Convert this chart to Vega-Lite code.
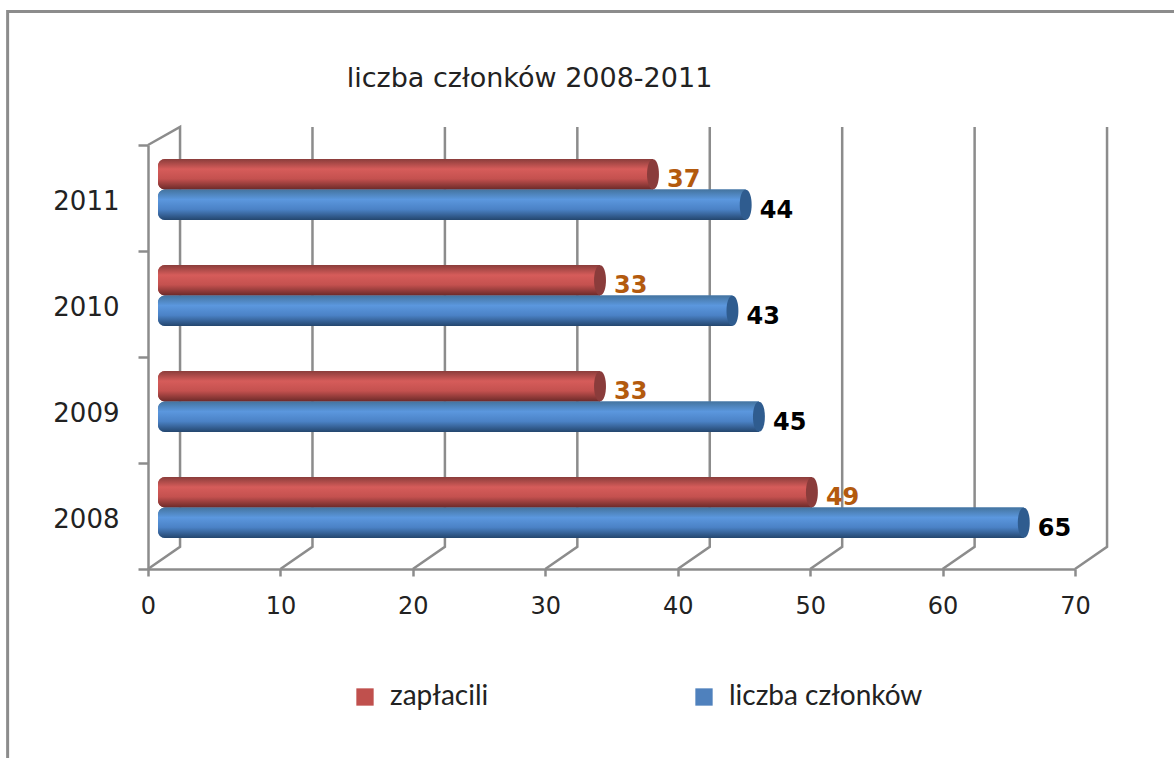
{
"$schema":"https://vega.github.io/schema/vega-lite/v6.json",
"width":927,"height":424,
"autosize":"none",
"padding":{"left":148,"top":145,"right":99,"bottom":189},
"background":"white",
"title":{"text":"liczba członków 2008-2011","anchor":"middle","frame":"group","dx":-82,"offset":-88,"font":"DejaVu Sans","fontSize":27,"fontWeight":"normal","color":"#222222"},
"config":{"view":{"stroke":null}},
"datasets":{
"bars":[
{"year":"2011","series":"zapłacili","value":37,"base":0},{"year":"2011","series":"liczba członków","value":44,"base":0},
{"year":"2010","series":"zapłacili","value":33,"base":0},{"year":"2010","series":"liczba członków","value":43,"base":0},
{"year":"2009","series":"zapłacili","value":33,"base":0},{"year":"2009","series":"liczba członków","value":45,"base":0},
{"year":"2008","series":"zapłacili","value":49,"base":0},{"year":"2008","series":"liczba członków","value":65,"base":0}],
"frame":[{"x":-10.6,"y":-1.8,"k":0},{"x":-10.6,"y":5.26,"k":1},{"x":77.5,"y":5.26,"k":2}],
"grid":[
{"line":"t0","x":0,"y":4,"k":0},{"line":"t0","x":2.42,"y":4.17,"k":1},{"line":"t0","x":2.42,"y":0.21,"k":2},{"line":"t0","x":0,"y":0,"k":3},
{"line":"g10","x":10,"y":0,"k":0},{"line":"g10","x":12.42,"y":0.21,"k":1},{"line":"g10","x":12.42,"y":4.17,"k":2},
{"line":"g20","x":20,"y":0,"k":0},{"line":"g20","x":22.42,"y":0.21,"k":1},{"line":"g20","x":22.42,"y":4.17,"k":2},
{"line":"g30","x":30,"y":0,"k":0},{"line":"g30","x":32.42,"y":0.21,"k":1},{"line":"g30","x":32.42,"y":4.17,"k":2},
{"line":"g40","x":40,"y":0,"k":0},{"line":"g40","x":42.42,"y":0.21,"k":1},{"line":"g40","x":42.42,"y":4.17,"k":2},
{"line":"g50","x":50,"y":0,"k":0},{"line":"g50","x":52.42,"y":0.21,"k":1},{"line":"g50","x":52.42,"y":4.17,"k":2},
{"line":"g60","x":60,"y":0,"k":0},{"line":"g60","x":62.42,"y":0.21,"k":1},{"line":"g60","x":62.42,"y":4.17,"k":2},
{"line":"g70","x":70,"y":0,"k":0},{"line":"g70","x":72.42,"y":0.21,"k":1},{"line":"g70","x":72.42,"y":4.17,"k":2}]
},
"resolve":{"scale":{"y":"independent"},"axis":{"y":"independent"}},
"layer":[
{"layer":[
 {"data":{"name":"frame"},"mark":{"type":"line","stroke":"#8c8c8c","strokeWidth":3,"clip":false},
  "encoding":{"x":{"field":"x","type":"quantitative","scale":{"domain":[0,70],"nice":false},"axis":{"values":[0,10,20,30,40,50,60,70],"title":null,"grid":false,"labelFlush":false,"labelFont":"DejaVu Sans","labelFontSize":24,"labelColor":"#222222","labelPadding":18,"tickSize":7,"tickWidth":2.5,"tickColor":"#8c8c8c","domainColor":"#8c8c8c","domainWidth":2.5}},
   "y":{"field":"y","type":"quantitative","scale":{"domain":[0,4],"nice":false},"axis":{"values":[0,1,2,3,4],"title":null,"grid":false,"labels":false,"tickSize":10,"tickWidth":2.5,"tickColor":"#8c8c8c","domainColor":"#8c8c8c","domainWidth":2.5}},
   "order":{"field":"k","type":"quantitative"}}},
 {"data":{"name":"grid"},"mark":{"type":"line","stroke":"#8c8c8c","strokeWidth":2.5,"clip":false},
  "encoding":{"x":{"field":"x","type":"quantitative"},"y":{"field":"y","type":"quantitative"},"detail":{"field":"line"},"order":{"field":"k","type":"quantitative"}}}
]},
{"data":{"name":"bars"},
 "encoding":{
  "y":{"field":"year","type":"nominal","sort":["2011","2010","2009","2008"],"scale":{"domain":["2011","2010","2009","2008"],"range":[-8.5,415.5],"paddingInner":0,"paddingOuter":0},"axis":{"orient":"left","title":null,"domain":false,"ticks":false,"labelFont":"DejaVu Sans","labelFontSize":26,"labelColor":"#222222","labelPadding":29,"labelOffset":12,"labelAngle":0}},
  "yOffset":{"field":"series","type":"nominal","sort":["zapłacili","liczba członków"],"scale":{"domain":["zapłacili","liczba członków"],"paddingInner":0,"paddingOuter":0.738}}
 },
 "layer":[
 {"mark":{"type":"bar","xOffset":15,"x2Offset":10,"cornerRadiusTopLeft":7,"cornerRadiusBottomLeft":7},
  "encoding":{"x":{"field":"value","type":"quantitative"},"x2":{"field":"base"},
   "color":{"field":"series","type":"nominal","scale":{"domain":["zapłacili","liczba członków"],"range":["#C0504D","#4F81BD"]},
    "legend":{"title":null,"orient":"none","legendX":203,"legendY":538,"direction":"horizontal","columns":2,"columnPadding":201,"symbolType":"square","symbolSize":300,"symbolOpacity":1,"labelFont":"Lato","labelFontSize":28,"labelLimit":400,"labelColor":"#222222","labelOffset":11}}}},
 {"transform":[{"filter":"datum.series==='zapłacili'"}],
  "mark":{"type":"bar","xOffset":15,"x2Offset":10,"cornerRadiusTopLeft":7,"cornerRadiusBottomLeft":7,
   "fill":{"gradient":"linear","x1":0,"y1":0,"x2":0,"y2":1,"stops":[{"offset":0,"color":"#8A3D3B"},{"offset":0.33,"color":"#D65C5A"},{"offset":0.65,"color":"#C4514F"},{"offset":1,"color":"#6B2A29"}]}},
  "encoding":{"x":{"field":"value","type":"quantitative"},"x2":{"field":"base"}}},
 {"transform":[{"filter":"datum.series==='liczba członków'"}],
  "mark":{"type":"bar","xOffset":15,"x2Offset":10,"cornerRadiusTopLeft":7,"cornerRadiusBottomLeft":7,
   "fill":{"gradient":"linear","x1":0,"y1":0,"x2":0,"y2":1,"stops":[{"offset":0,"color":"#44749F"},{"offset":0.33,"color":"#5B97DE"},{"offset":0.65,"color":"#4B82C6"},{"offset":1,"color":"#24466E"}]}},
  "encoding":{"x":{"field":"value","type":"quantitative"},"x2":{"field":"base"}}},
 {"transform":[{"filter":"datum.series==='zapłacili'"}],
  "mark":{"type":"point","filled":true,"opacity":1,"xOffset":15,"color":"#8A3C3B","size":900,"shape":"M0 -1C0.53 -1 0.53 1 0 1C-0.53 1 -0.53 -1 0 -1Z"},
  "encoding":{"x":{"field":"value","type":"quantitative"}}},
 {"transform":[{"filter":"datum.series==='liczba członków'"}],
  "mark":{"type":"point","filled":true,"opacity":1,"xOffset":15,"color":"#2F5C8F","size":900,"shape":"M0 -1C0.53 -1 0.53 1 0 1C-0.53 1 -0.53 -1 0 -1Z"},
  "encoding":{"x":{"field":"value","type":"quantitative"}}},
 {"transform":[{"filter":"datum.series==='zapłacili'"}],
  "mark":{"type":"text","align":"left","baseline":"middle","xOffset":29,"dy":6,"font":"DejaVu Sans","fontSize":24,"fontWeight":"bold","color":"#B35A0E"},
  "encoding":{"x":{"field":"value","type":"quantitative"},"text":{"field":"value","type":"quantitative"}}},
 {"transform":[{"filter":"datum.series==='liczba członków'"}],
  "mark":{"type":"text","align":"left","baseline":"middle","xOffset":29,"dy":6,"font":"DejaVu Sans","fontSize":24,"fontWeight":"bold","color":"#000000"},
  "encoding":{"x":{"field":"value","type":"quantitative"},"text":{"field":"value","type":"quantitative"}}}
 ]}
]
}
